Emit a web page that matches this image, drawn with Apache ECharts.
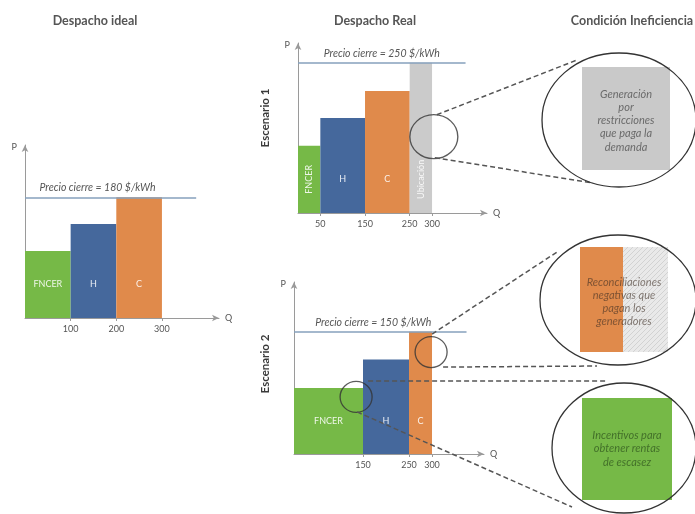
<!DOCTYPE html>
<html>
<head>
<meta charset="utf-8">
<script src="https://cdn.jsdelivr.net/npm/echarts@6/dist/echarts.min.js"></script>
<style>
  html, body { margin: 0; padding: 0; background: #fff; }
  #chart { width: 695px; height: 514px; }
</style>
</head>
<body>
<div id="chart"></div>
<script>
// --- data ---
const idealNames = ["FNCER", "H", "C"];
const idealQ = [0, 100, 200, 300];
const idealP = [100, 140, 180];
const idealPrice = 180;
const idealTicks = [100, 200, 300];

const esc1Names = ["FNCER", "H", "C", "Ubicación"];
const esc1Q = [0, 50, 150, 250, 300];
const esc1P = [112, 158, 203, 250];
const esc1Price = 250;
const esc1Ticks = [50, 150, 250, 300];
const esc1Circles = [[304, 127]];

const esc2Names = ["FNCER", "H", "C"];
const esc2Q = [0, 150, 250, 300];
const esc2P = [81, 116, 150];
const esc2Price = 150;
const esc2Ticks = [150, 250, 300];
const esc2Circles = [[135, 70], [298, 125]];

const titles = ["Despacho ideal", "Despacho Real", "Condición Ineficiencia"];
const scenarioLabels = ["Escenario 1", "Escenario 2"];
const calloutTexts = [
  ["Generación", "por", "restricciones", "que paga la", "demanda"],
  ["Reconciliaciones", "negativas que", "pagan los", "generadores"],
  ["Incentivos para", "obtener rentas", "de escasez"],
];

// --- styles ---
const COLORS = { FNCER: "#76b947", H: "#45689c", C: "#e08a4b", "Ubicación": "#cbcbcb" };
const PRICE_COLOR = "#86a0bd";
const AXIS_COLOR = "#9a9a9a";
const FONT = "Lato, 'Open Sans', sans-serif";

const grids = [
  { left: 25, top: 145, width: 194, height: 173 },
  { left: 298, top: 43, width: 189, height: 170 },
  { left: 294, top: 282, width: 190, height: 172 },
];
const xMax = [425, 423, 413];
const yMax = [258, 283, 211];
const priceLineEnd = 375;
const priceLabelShift = [-13, 0, -7];

function makeXAxis(i, ticks) {
  return {
    type: "value", gridIndex: i, min: 0, max: xMax[i],
    name: "Q", nameLocation: "end", nameGap: 6,
    nameTextStyle: { color: "#555", fontSize: 9, fontFamily: FONT, verticalAlign: "middle" },
    axisLine: { show: true, lineStyle: { color: AXIS_COLOR, width: 1 }, symbol: ["none", "arrow"], symbolSize: [5, 7] },
    axisTick: { show: true, customValues: ticks, length: 3, lineStyle: { color: AXIS_COLOR } },
    axisLabel: { customValues: ticks, color: "#555", fontSize: 9, fontFamily: FONT, margin: 7 },
    splitLine: { show: false },
  };
}

function makeYAxis(i) {
  return {
    type: "value", gridIndex: i, min: 0, max: yMax[i],
    name: "P", nameLocation: "end", nameGap: -2,
    nameTextStyle: { color: "#555", fontSize: 9, fontFamily: FONT, align: "right", verticalAlign: "middle", padding: [0, 8, 0, 0] },
    axisLine: { show: true, lineStyle: { color: AXIS_COLOR, width: 1 }, symbol: ["none", "arrow"], symbolSize: [5, 7] },
    axisTick: { show: false },
    axisLabel: { show: false },
    splitLine: { show: false },
  };
}

function makeBars(i, names, q, p, price) {
  return {
    type: "custom",
    xAxisIndex: i,
    yAxisIndex: i,
    data: names.map((n, k) => [q[k], q[k + 1], p[k]]),
    renderItem: (params, api) => {
      const k = params.dataIndex;
      const name = names[k];
      const lt = api.coord([api.value(0), api.value(2)]);
      const rb = api.coord([api.value(1), 0]);
      const w = rb[0] - lt[0];
      const lp = api.coord([(api.value(0) + api.value(1)) / 2, p[0] / 2]);
      const rotate = w < 30 && name.length > 1;
      return {
        type: "group",
        children: [
          { type: "rect", shape: { x: lt[0], y: lt[1], width: w, height: rb[1] - lt[1] }, style: { fill: COLORS[name] } },
          {
            type: "text", x: lp[0], y: lp[1], rotation: rotate ? Math.PI / 2 : 0,
            style: { text: name, fill: "rgba(255,255,255,0.88)", font: "9px " + FONT, align: "center", verticalAlign: "middle" },
          },
        ],
      };
    },
    markLine: {
      silent: true,
      symbol: "none",
      lineStyle: { color: PRICE_COLOR, width: 1.5, type: "solid" },
      label: {
        position: "middle",
        formatter: "Precio cierre = " + price + " $/kWh",
        color: "#555", fontSize: 10.5, fontStyle: "italic", fontFamily: FONT, distance: 4,
        offset: [priceLabelShift[i], 0],
      },
      data: [[{ coord: [0, price] }, { coord: [priceLineEnd, price] }]],
    },
  };
}

function makeCircles(i, pts, size) {
  return {
    type: "scatter", xAxisIndex: i, yAxisIndex: i, z: 5,
    data: pts, symbol: "circle", symbolSize: size,
    itemStyle: { color: "rgba(0,0,0,0)", borderColor: "#333", borderWidth: 1.3 },
  };
}

const chart = echarts.init(document.getElementById("chart"), null, { renderer: "canvas" });

chart.setOption({
  animation: false,
  backgroundColor: "#fff",
  title: [
    { text: titles[0], left: 90, top: 9 },
    { text: titles[1], left: 370, top: 9 },
    { text: titles[2], left: 627, top: 9 },
  ].map((t) => ({ ...t, textAlign: "center", textStyle: { fontSize: 12.5, fontWeight: "bold", color: "#555", fontFamily: FONT } })),
  grid: grids,
  xAxis: [makeXAxis(0, idealTicks), makeXAxis(1, esc1Ticks), makeXAxis(2, esc2Ticks)],
  yAxis: [makeYAxis(0), makeYAxis(1), makeYAxis(2)],
  series: [
    makeBars(0, idealNames, idealQ, idealP, idealPrice),
    makeBars(1, esc1Names, esc1Q, esc1P, esc1Price),
    makeBars(2, esc2Names, esc2Q, esc2P, esc2Price),
    makeCircles(1, esc1Circles, [48, 44]),
    makeCircles(2, esc2Circles, [32, 31]),
  ],
});

// --- callouts on the right, joined to the circles ---
const hatch = document.createElement("canvas");
hatch.width = 5; hatch.height = 5;
const hc = hatch.getContext("2d");
hc.fillStyle = "#e9e9e9"; hc.fillRect(0, 0, 5, 5);
hc.strokeStyle = "#d2d2d2"; hc.lineWidth = 1;
hc.beginPath(); hc.moveTo(0, 5); hc.lineTo(5, 0); hc.stroke();

const callouts = [
  { cx: 619, cy: 120, rx: 77, ry: 67 },
  { cx: 618, cy: 300, rx: 78, ry: 65 },
  { cx: 624, cy: 448, rx: 72, ry: 65 },
];

const c1 = chart.convertToPixel({ gridIndex: 1 }, esc1Circles[0]);
const c2a = chart.convertToPixel({ gridIndex: 2 }, esc2Circles[0]);
const c2b = chart.convertToPixel({ gridIndex: 2 }, esc2Circles[1]);

const dash = { stroke: "#555", lineWidth: 1.5, lineDash: [5, 3] };
const connectors = [
  [c1[0] + 3, c1[1] - 22, 577, 60],
  [c1[0] + 1, c1[1] + 21, 593, 183],
  [c2b[0] + 1, c2b[1] - 18, 557, 252],
  [c2b[0] + 12, c2b[1] + 15, 597, 366],
  [c2a[0] + 12, c2a[1] - 16, 608, 381],
  [c2a[0] + 1, c2a[1] + 15, 572, 507],
];

function textLines(lines, cx, y0, step, color) {
  return lines.map((s, k) => ({
    type: "text", x: cx, y: y0 + k * step, z: 20,
    style: { text: s, fill: color, font: "italic 11px " + FONT, align: "center", verticalAlign: "middle" },
  }));
}

chart.setOption({
  graphic: [
    ...connectors.map((c) => ({ type: "line", z: 10, shape: { x1: c[0], y1: c[1], x2: c[2], y2: c[3] }, style: dash })),
    { type: "rect", z: 15, shape: { x: 582, y: 67, width: 88, height: 103 }, style: { fill: "#c9c9c9" } },
    { type: "rect", z: 15, shape: { x: 580, y: 247, width: 43, height: 105 }, style: { fill: COLORS.C } },
    { type: "rect", z: 15, shape: { x: 623, y: 247, width: 45, height: 105 }, style: { fill: { image: hatch, repeat: "repeat" } } },
    { type: "rect", z: 15, shape: { x: 582, y: 398, width: 90, height: 102 }, style: { fill: COLORS.FNCER } },
    ...textLines(calloutTexts[0], 626, 94, 13.3, "#6a6a6a"),
    ...textLines(calloutTexts[1], 624, 282, 13.3, "rgba(60,45,35,0.6)"),
    ...textLines(calloutTexts[2], 627, 435, 13.5, "rgba(30,60,20,0.6)"),
    ...callouts.map((e) => ({ type: "ellipse", z: 25, shape: e, style: { fill: null, stroke: "#333", lineWidth: 1.3 } })),
    ...scenarioLabels.map((s, k) => ({
      type: "text", x: 265, y: k === 0 ? 118 : 364, rotation: Math.PI / 2, z: 20,
      style: { text: s, fill: "#3a3a3a", font: "bold 11.5px " + FONT, align: "center", verticalAlign: "middle" },
    })),
  ],
});
</script>
</body>
</html>
